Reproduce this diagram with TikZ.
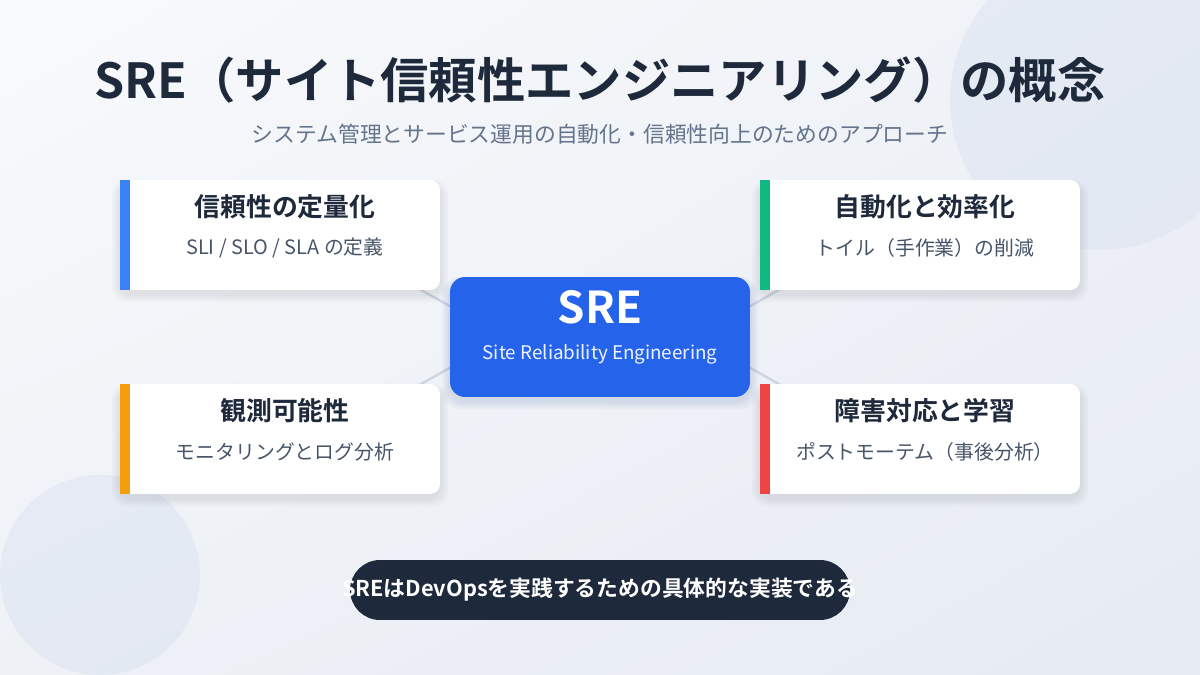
\documentclass[tikz,border=0pt]{standalone}
\usepackage{fontspec}
\setmainfont{Noto Sans CJK JP}[BoldFont={Noto Sans CJK JP Bold}]
\usetikzlibrary{positioning,shadings}

\definecolor{ink}{HTML}{1E293B}
\definecolor{mute}{HTML}{64748B}
\definecolor{subink}{HTML}{475569}
\definecolor{sreblue}{HTML}{2563EB}
\definecolor{barblue}{HTML}{3B82F6}
\definecolor{bargreen}{HTML}{10B981}
\definecolor{barorange}{HTML}{F59E0B}
\definecolor{barred}{HTML}{EF4444}
\definecolor{linkgray}{HTML}{CBD5E1}
\definecolor{bgA}{HTML}{F8FAFC}
\definecolor{bgB}{HTML}{EEF1F6}
\definecolor{bgC}{HTML}{E6EBF3}
\definecolor{blob}{HTML}{DCE4F2}

\begin{document}
\begin{tikzpicture}
  [x=0.02cm,y=-0.02cm,
   card/.style={fill=white,rounded corners=0.2cm,minimum width=6.4cm,minimum height=2.2cm,inner sep=0pt},
   cardhead/.style={font=\bfseries\fontsize{14.7pt}{17pt}\selectfont,text=ink},
   cardnote/.style={font=\fontsize{11.3pt}{13pt}\selectfont,text=subink},
   link/.style={draw=linkgray,line width=1.3pt}]
\useasboundingbox (0,0) rectangle (1200,675);

% background
\shade[upper left=bgA,upper right=bgB,lower left=bgB,lower right=bgC] (0,0) rectangle (1200,675);
\fill[blob,opacity=0.55] (1100,100) circle [radius=3cm];
\fill[blob,opacity=0.55] (100,575) circle [radius=2cm];

% connectors
\coordinate (hubL) at (505,337) ;
\coordinate (hubR) at (695,337) ;
\coordinate (lkTL) at (380,267) ;
\coordinate (lkBL) at (380,407) ;
\coordinate (lkTR) at (820,267) ;
\coordinate (lkBR) at (820,407) ;
\draw [link] (lkTL) -- (hubL) (lkBL) -- (hubL)
             (lkTR) -- (hubR) (lkBR) -- (hubR) ;

% shadows
\foreach \cx/\cy in {280/235,920/235,280/439,920/439} {
  \foreach \k in {1,...,4}
    \fill[black,opacity=0.018,rounded corners=0.3cm]
      (\cx-160-\k*2,\cy-55+4-\k) rectangle (\cx+160+\k*2,\cy+55+4+\k*2) ;
}
\foreach \k in {1,...,4}
  \fill[sreblue!60!black,opacity=0.03,rounded corners=0.35cm]
    (450-\k*2,277+4-\k) rectangle (750+\k*2,397+4+\k*2) ;

% cards
\node [card] (tl) at (280,235) {};
\node [card] (tr) at (920,235) {};
\node [card] (bl) at (280,439) {};
\node [card] (br) at (920,439) {};
\fill [barblue]   (tl.north west) rectangle ([xshift=0.2cm]tl.south west) ;
\fill [bargreen]  (tr.north west) rectangle ([xshift=0.2cm]tr.south west) ;
\fill [barorange] (bl.north west) rectangle ([xshift=0.2cm]bl.south west) ;
\fill [barred]    (br.north west) rectangle ([xshift=0.2cm]br.south west) ;

\node [cardhead] (tlhead) at (285,207) {信頼性の定量化};
\node [cardnote] (tlnote) at (285,248) {SLI / SLO / SLA の定義};
\node [cardhead] (trhead) at (925,207) {自動化と効率化};
\node [cardnote] (trnote) at (925,248) {トイル（手作業）の削減};
\node [cardhead] (blhead) at (285,411) {観測可能性};
\node [cardnote] (blnote) at (285,452) {モニタリングとログ分析};
\node [cardhead] (brhead) at (925,411) {障害対応と学習};
\node [cardnote] (brnote) at (925,452) {ポストモーテム（事後分析）};

% center
\node [fill=sreblue,rounded corners=0.3cm,minimum width=6cm,minimum height=2.4cm] (sre) at (600,337) {};
\node [text=white,font=\bfseries\fontsize{25pt}{30pt}\selectfont] (sretitle) at (600,307) {SRE};
\node [text=white!92!sreblue,font=\fontsize{10.7pt}{12pt}\selectfont] (srefull) at (600,354) {Site Reliability Engineering};

% title
\node [text=ink,font=\bfseries\fontsize{27.5pt}{32pt}\selectfont] (title) at (600,80) {SRE（サイト信頼性エンジニアリング）の概念};
\node [text=mute,font=\fontsize{12.4pt}{15pt}\selectfont] (subtitle) at (600,134) {システム管理とサービス運用の自動化・信頼性向上のためのアプローチ};

% footer
\node [fill=ink,rounded corners=0.6cm,minimum width=10cm,minimum height=1.2cm] (note) at (600,590) {};
\node [text=white,font=\bfseries\fontsize{12.4pt}{15pt}\selectfont] (notetext) at (note.center) {SREはDevOpsを実践するための具体的な実装である};
\end{tikzpicture}
\end{document}
